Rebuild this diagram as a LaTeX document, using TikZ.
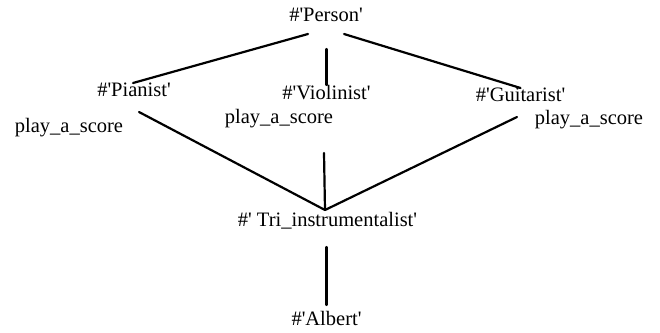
\documentclass[tikz,border=0pt]{standalone}
\usepackage{fontspec}
\setmainfont{Liberation Serif}
\newfontfamily\lblfont{Liberation Serif}
\newcommand\sq{\textquotesingle}
\begin{document}
\begin{tikzpicture}[x=1pt,y=-1pt,
  lbl/.style={anchor=base,inner sep=0pt,font=\lblfont\fontsize{20.5}{24}\selectfont},
  edge/.style={line width=2.2pt,line cap=round}]
\useasboundingbox (0,0) rectangle (660,332);

% class names
\node[lbl] (person) at (326,21)  {\#\sq Person\sq};
\node[lbl] (pianist) at (134,96) {\#\sq Pianist\sq};
\node[lbl] (violin) at (326.5,99) {\#\sq Violinist\sq};
\node[lbl] (guitar) at (520.5,101) {\#\sq Guitarist\sq};
\node[lbl] (tri) at (327.5,226) {\#\sq{} Tri\_instrumentalist\sq};
\node[lbl] (albert) at (326.5,325) {\#\sq Albert\sq};

% method labels
\node[lbl] (mp) at (69,132)   {play\_a\_score};
\node[lbl] (mv) at (279,123)  {play\_a\_score};
\node[lbl] (mg) at (589,124)  {play\_a\_score};

% connector ends
\coordinate (pl) at (308,34);
\coordinate (pc) at (326.5,49);
\coordinate (pr) at (344,34);
\coordinate (pianist-t) at (133,83);
\coordinate (violin-t) at (326.5,85);
\coordinate (guitar-t) at (520.5,88);
\coordinate (pianist-b) at (139,112);
\coordinate (violin-b) at (324,153);
\coordinate (guitar-b) at (517,117);
\coordinate (tri-t) at (325,210);
\coordinate (tri-b) at (326.5,247);
\coordinate (albert-t) at (326.5,305);

% generalisation links
\draw[edge] (pl) -- (pianist-t);
\draw[edge] (pc) -- (violin-t);
\draw[edge] (pr) -- (guitar-t);
\draw[edge] (pianist-b) -- (tri-t);
\draw[edge] (violin-b) -- (tri-t);
\draw[edge] (guitar-b) -- (tri-t);
\draw[edge] (tri-b) -- (albert-t);
\end{tikzpicture}
\end{document}
